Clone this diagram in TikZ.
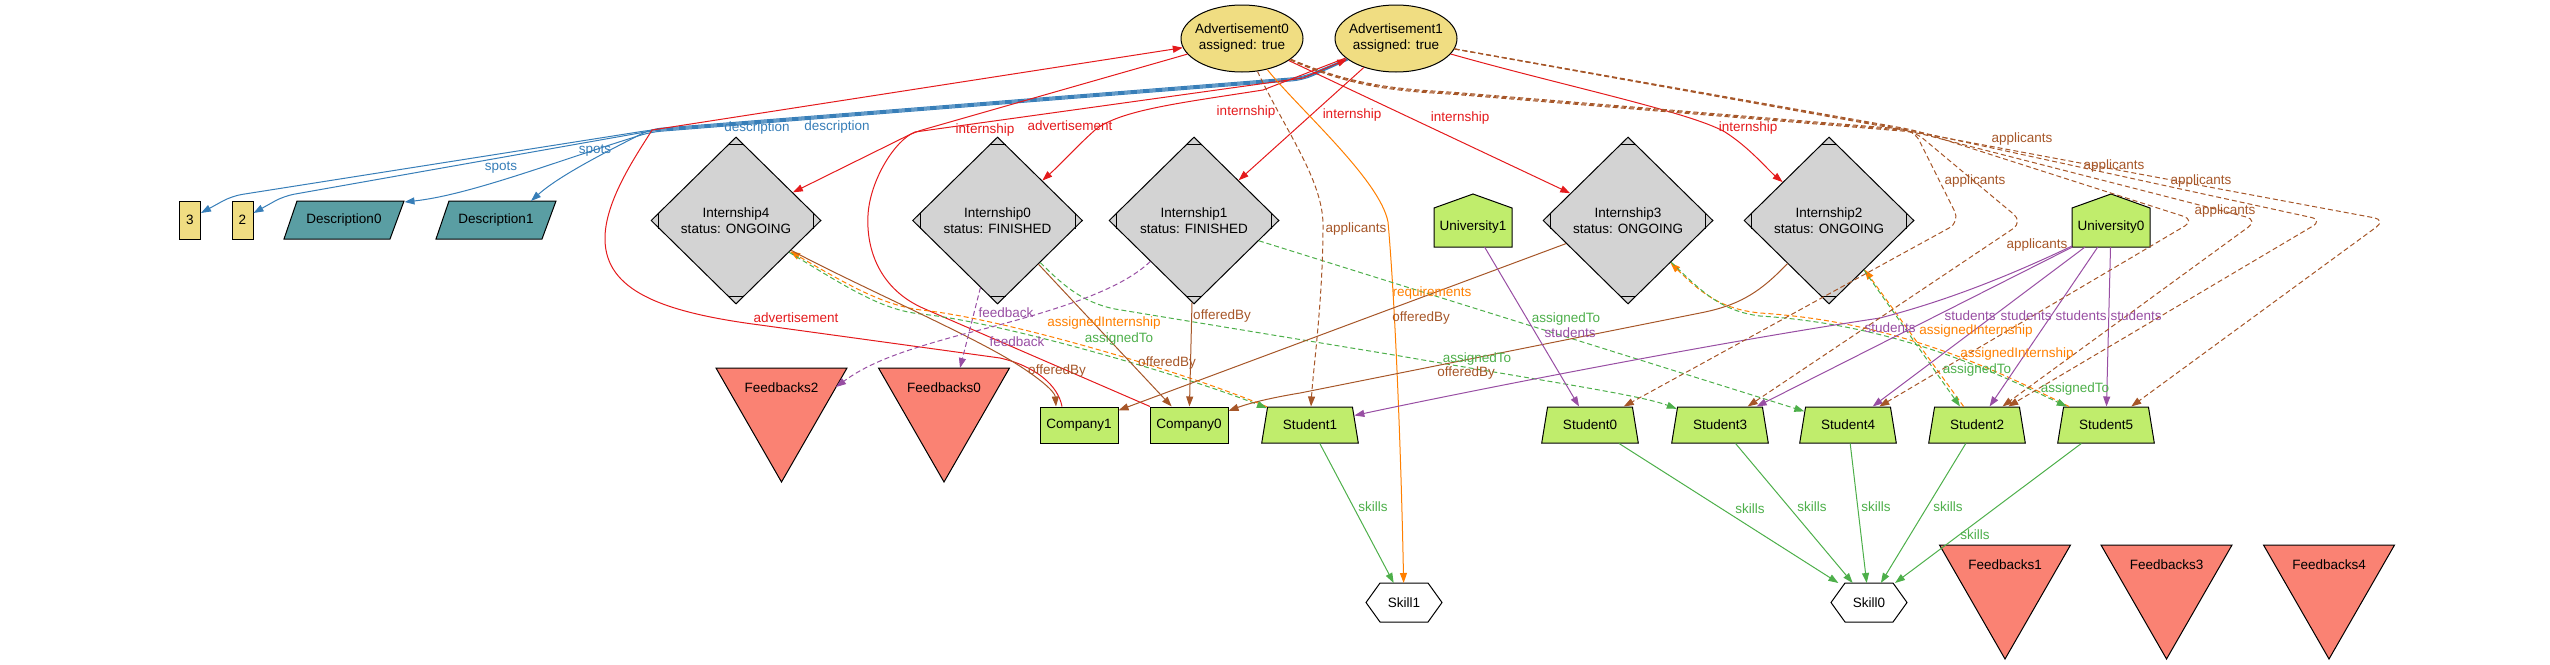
\documentclass[tikz,border=0pt]{standalone}
\usepackage{fontspec}
\setmainfont{Liberation Sans}
\usetikzlibrary{shapes.geometric,arrows.meta}
\definecolor{khakif}{RGB}{240,221,130}
\definecolor{tealf}{RGB}{90,158,163}
\definecolor{greyf}{RGB}{211,211,211}
\definecolor{greenf}{RGB}{192,237,108}
\definecolor{salmonf}{RGB}{250,130,115}
\definecolor{cred}{RGB}{228,26,28}
\definecolor{cblue}{RGB}{55,126,184}
\definecolor{cbrown}{RGB}{166,86,40}
\definecolor{corange}{RGB}{255,127,0}
\definecolor{cgreen}{RGB}{77,175,74}
\definecolor{cpurple}{RGB}{152,78,163}
\newcommand\fsz{\fontsize{13.5}{16}\selectfont}
\newcommand\mdlines[1]{%
 \draw[line width=1pt] ([shift={(-8,8)}]#1.north) -- ([shift={(8,8)}]#1.north);
 \draw[line width=1pt] ([shift={(-8,-8)}]#1.south) -- ([shift={(8,-8)}]#1.south);
 \draw[line width=1pt] ([shift={(8,-8)}]#1.west) -- ([shift={(8,8)}]#1.west);
 \draw[line width=1pt] ([shift={(-8,-8)}]#1.east) -- ([shift={(-8,8)}]#1.east);}
\newcommand\descnode[4]{%
 \filldraw[nline, fill=tealf] (#2-60,#3+19) -- (#2+46,#3+19) -- (#2+60,#3-19) -- (#2-47,#3-19) -- cycle;
 \node[plain, minimum width=107pt, minimum height=38pt] (#1) at (#2,#3) {#4};}
\newcommand\fbnode[4]{%
 \filldraw[nline, fill=salmonf] (#2-65.5,#3) -- (#2+65.5,#3) -- (#2,#3+114) -- cycle;
 \node[plain] (#1) at (#2,#3+20) {#4};}
\newcommand\housenode[4]{%
 \filldraw[nline, fill=greenf] (#2-39,#3+19.5) -- (#2+39,#3+19.5) -- (#2+39,#3-19.5) -- (#2,#3-33.5) -- (#2-39,#3-19.5) -- cycle;
 \node[plain, minimum width=78pt, minimum height=39pt] (#1) at (#2,#3) {#4};}
\newcommand\hexnode[4]{%
 \filldraw[nline, fill=white] (#2-38,#3) -- (#2-24,#3-19.5) -- (#2+24,#3-19.5) -- (#2+38,#3) -- (#2+24,#3+19.5) -- (#2-24,#3+19.5) -- cycle;
 \node[plain, minimum width=76pt, minimum height=39pt] (#1) at (#2,#3) {#4};}
\begin{document}
\begin{tikzpicture}[x=1pt,y=-1pt,
  every node/.style={font=\fsz},
  nline/.style={draw=black, line width=1pt},
  plain/.style={inner sep=0pt, outer sep=0pt, align=center},
  advn/.style={nline, ellipse, fill=khakif, minimum width=122pt, minimum height=67pt, inner sep=0pt},
  intn/.style={nline, rectangle, fill=khakif, minimum width=21pt, minimum height=38pt, inner sep=0pt},
  mdia/.style={nline, diamond, fill=greyf, minimum width=170pt, minimum height=167pt, inner sep=0pt, align=center},
  compn/.style={nline, rectangle, fill=greenf, minimum width=78pt, minimum height=36pt, inner sep=0pt},
  studn/.style={nline, trapezium, trapezium angle=69.4, trapezium stretches=true, fill=greenf, minimum width=97pt, minimum height=36pt, inner sep=0pt},
  edg/.style={line width=1pt, -{Triangle[length=10pt,width=7pt]}},
  ered/.style={edg, draw=cred},
  eblue/.style={edg, draw=cblue},
  ebrown/.style={edg, draw=cbrown},
  eorange/.style={edg, draw=corange},
  egreen/.style={edg, draw=cgreen},
  epurple/.style={edg, draw=cpurple},
  dsh/.style={dash pattern=on 5pt off 3pt},
  lbl/.style={inner sep=0pt, font=\fsz}]
\useasboundingbox (0,0) rectangle (2550,664);

% ---------------- nodes
\node[advn] (adv0) at (1242,38.5) {};
\node[plain] (adv0t) at (adv0.center) {Advertisement0\\assigned: true};
\node[advn] (adv1) at (1396,38.5) {};
\node[plain] (adv1t) at (adv1.center) {Advertisement1\\assigned: true};
\node[intn] (box3) at (190,220) {3};
\node[intn] (box2) at (242.5,220) {2};
\descnode{desc0}{344}{220}{Description0}
\descnode{desc1}{496}{220}{Description1}
\node[mdia] (i4) at (736,220.5) {Internship4\\status: ONGOING}; \mdlines{i4}
\node[mdia] (i0) at (997.5,220.5) {Internship0\\status: FINISHED}; \mdlines{i0}
\node[mdia] (i1) at (1194,220.5) {Internship1\\status: FINISHED}; \mdlines{i1}
\node[mdia] (i3) at (1628,220.5) {Internship3\\status: ONGOING}; \mdlines{i3}
\node[mdia] (i2) at (1829,220.5) {Internship2\\status: ONGOING}; \mdlines{i2}
\housenode{uni1}{1473}{227.5}{University1}
\housenode{uni0}{2111}{227.5}{University0}
\fbnode{fb2}{781.5}{368}{Feedbacks2}
\fbnode{fb0}{944}{368}{Feedbacks0}
\fbnode{fb1}{2005}{545}{Feedbacks1}
\fbnode{fb3}{2166.5}{545}{Feedbacks3}
\fbnode{fb4}{2329}{545}{Feedbacks4}
\node[compn] (company1) at (1079,425) {Company1};
\node[compn] (company0) at (1189,425) {Company0};
\node[studn] (student1) at (1310,425) {Student1};
\node[studn] (student0) at (1590,425) {Student0};
\node[studn] (student3) at (1720,425) {Student3};
\node[studn] (student4) at (1848,425) {Student4};
\node[studn] (student2) at (1977,425) {Student2};
\node[studn] (student5) at (2106,425) {Student5};
\hexnode{skill1}{1404}{602.5}{Skill1}
\hexnode{skill0}{1869}{602.5}{Skill0}
\coordinate (fb0in) at (960,368);
\coordinate (fb2in) at (836,387);

% ---------------- blue: description / spots
\draw[eblue, rounded corners=10pt] (adv1) -- (1303,78) -- (651,130) -- (232,196) -- ([shift={(0,-7)}]box3.east);
\draw[eblue, rounded corners=10pt] (adv1) -- (1303,79) -- (651,131) -- (284,196) -- ([shift={(0,-7)}]box2.east);
\draw[eblue, rounded corners=10pt] (adv1) -- (1303,80) -- (651,132) .. controls (560,160) and (470,195) .. ([shift={(7,1)}]desc0.north east);
\draw[eblue, rounded corners=10pt] (adv1) -- (1303,77) -- (651,129) .. controls (610,150) and (560,175) .. ([shift={(35,0)}]desc1.north);

% ---------------- red: internship / advertisement
\draw[ered] ([xshift=-17pt]company1.north) .. controls (1058,385) and (1035,366) .. (1000,358) -- (760,325) .. controls (660,312) and (606,290) .. (605,240) .. controls (604,200) and (640,150) .. (652,130) -- (adv0);
\draw[ered, rounded corners=8pt] (adv0) -- (915,132) -- (i4);
\draw[ered] ([xshift=-39pt]company0.north) -- (925,309) .. controls (880,290) and (866,250) .. (868,215) .. controls (870,180) and (895,140) .. (915,132) -- (1303,78) -- (adv1);
\draw[ered] (adv1) -- (1263,90) .. controls (1180,103) and (1120,110) .. (1095,130) .. controls (1075,148) and (1062,163) .. (i0);
\draw[ered] (adv1) -- (i1);
\draw[ered] (adv0) -- (i3);
\draw[ered] (adv1) .. controls (1560,85) and (1690,112) .. (1725,132) .. controls (1750,148) and (1768,170) .. (i2);

% ---------------- orange
\draw[eorange] (adv0) .. controls (1300,110) and (1380,180) .. (1388,222) .. controls (1395,300) and (1401,450) .. (skill1);
\draw[eorange, dsh] (student1) .. controls (1180,370) and (1000,318) .. (921,310) .. controls (880,305) and (840,280) .. (i4);
\draw[eorange, dsh] (student5) .. controls (2000,372) and (1900,322) .. (1760,313) .. controls (1720,309) and (1700,292) .. (i3);
\draw[eorange, dsh] (student2) -- (i2);

% ---------------- green dashed: assignedTo
\draw[egreen, dsh] (i4) .. controls (842,284) and (880,310) .. (921,314) .. controls (1000,322) and (1180,374) .. (student1);
\draw[egreen, dsh] (i0) .. controls (1060,282) and (1080,302) .. (1115,309) -- (1400,356) .. controls (1550,382) and (1640,395) .. (student3);
\draw[egreen, dsh] (i1) -- (student4);
\draw[egreen, dsh] (i2) -- ([xshift=-17pt]student2.north);
\draw[egreen, dsh] (i3) .. controls (1700,290) and (1720,311) .. (1760,316) .. controls (1900,325) and (2000,375) .. (student5);

% ---------------- brown: offeredBy
\draw[ebrown] (i1) -- (company0);
\draw[ebrown] (i0) -- (company0);
\draw[ebrown] (i4) .. controls (850,282) and (960,330) .. (1010,360) .. controls (1040,378) and (1055,392) .. ([xshift=-23pt]company1.north);
\draw[ebrown] (i3) -- (company1);
\draw[ebrown] (i2) .. controls (1762,290) and (1742,305) .. (1700,313) -- (1300,393) .. controls (1270,398) and (1250,403) .. (company0);

% ---------------- purple dashed: feedback
\draw[epurple, dsh] (i0) -- (fb0in);
\draw[epurple, dsh] (i1) .. controls (1120,290) and (1060,310) .. (960,335) .. controls (905,350) and (870,362) .. (fb2in);

% ---------------- purple: students
\draw[epurple] (uni1) -- (student0);
\draw[epurple] (uni0) .. controls (1990,285) and (1930,305) .. (1880,318) .. controls (1700,345) and (1450,395) .. (student1);
\draw[epurple] (uni0) -- (student3);
\draw[epurple] (uni0) -- (student4);
\draw[epurple] (uni0) -- (student2);
\draw[epurple] (uni0) -- (student5);

% ---------------- green: skills
\draw[egreen] (student1) -- (skill1);
\draw[egreen] (student0) -- (skill0);
\draw[egreen] (student3) -- (skill0);
\draw[egreen] (student4) -- (skill0);
\draw[egreen] (student2) -- (skill0);
\draw[egreen] (student5) -- (skill0);

% ---------------- brown dashed: applicants
\draw[ebrown, dsh] (adv0) .. controls (1285,130) and (1323,180) .. (1323,225) .. controls (1323,300) and (1313,370) .. (student1);
\draw[ebrown, dsh, rounded corners=12pt] (adv0) .. controls (1340,80) and (1380,88) .. (1450,92) -- (1914,130) -- (1960,222) -- (student0);
\draw[ebrown, dsh, rounded corners=12pt] (adv0) .. controls (1340,81) and (1380,89) .. (1450,93) -- (1914,131) -- (2023,222) -- (student3);
\draw[ebrown, dsh, rounded corners=12pt] (adv0) .. controls (1340,82) and (1380,90) .. (1450,94) -- (1914,132) -- (2258,220) -- (student2);
\draw[ebrown, dsh, rounded corners=12pt] (adv1) -- (1914,130) -- (2195,220) -- (student4);
\draw[ebrown, dsh, rounded corners=12pt] (adv1) -- (1914,131) -- (2323,220) -- (student2);
\draw[ebrown, dsh, rounded corners=12pt] (adv1) -- (1914,132) -- (2386,220) -- (student5);

% ---------------- labels
\node[lbl, text=cblue] (lb1) at (757,128) {description};
\node[lbl, text=cblue] (lb2) at (837,127) {description};
\node[lbl, text=cblue] (lb3) at (501,168) {spots};
\node[lbl, text=cblue] (lb4) at (595,151) {spots};
\node[lbl, text=cred] (lb5) at (985,130) {internship};
\node[lbl, text=cred] (lb6) at (1246,112) {internship};
\node[lbl, text=cred] (lb7) at (1352,115) {internship};
\node[lbl, text=cred] (lb8) at (1460,118) {internship};
\node[lbl, text=cred] (lb9) at (1748,128) {internship};
\node[lbl, text=cred] (lb10) at (1070,126) {advertisement};
\node[lbl, text=cred] (lb11) at (796,318) {advertisement};
\node[lbl, text=cbrown] (lb12) at (1356,229) {applicants};
\node[lbl, text=cbrown] (lb13) at (2022,139) {applicants};
\node[lbl, text=cbrown] (lb14) at (1975,181) {applicants};
\node[lbl, text=cbrown] (lb15) at (2114,166) {applicants};
\node[lbl, text=cbrown] (lb16) at (2201,181) {applicants};
\node[lbl, text=cbrown] (lb17) at (2225,211) {applicants};
\node[lbl, text=cbrown] (lb18) at (2037,245) {applicants};
\node[lbl, text=cbrown] (lb19) at (1222,316) {offeredBy};
\node[lbl, text=cbrown] (lb20) at (1167,363) {offeredBy};
\node[lbl, text=cbrown] (lb21) at (1057,371) {offeredBy};
\node[lbl, text=cbrown] (lb22) at (1421,318) {offeredBy};
\node[lbl, text=cbrown] (lb23) at (1466,373) {offeredBy};
\node[lbl, text=corange] (lb24) at (1432,293) {requirements};
\node[lbl, text=corange] (lb25) at (1104,323) {assignedInternship};
\node[lbl, text=corange] (lb26) at (1976,331) {assignedInternship};
\node[lbl, text=corange] (lb27) at (2017,354) {assignedInternship};
\node[lbl, text=cgreen] (lb28) at (1119,339) {assignedTo};
\node[lbl, text=cgreen] (lb29) at (1566,319) {assignedTo};
\node[lbl, text=cgreen] (lb30) at (1477,359) {assignedTo};
\node[lbl, text=cgreen] (lb31) at (1977,370) {assignedTo};
\node[lbl, text=cgreen] (lb32) at (2075,389) {assignedTo};
\node[lbl, text=cgreen] (lb33) at (1373,507) {skills};
\node[lbl, text=cgreen] (lb34) at (1750,509) {skills};
\node[lbl, text=cgreen] (lb35) at (1812,507) {skills};
\node[lbl, text=cgreen] (lb36) at (1876,507) {skills};
\node[lbl, text=cgreen] (lb37) at (1948,507) {skills};
\node[lbl, text=cgreen] (lb38) at (1975,535) {skills};
\node[lbl, text=cpurple] (lb39) at (1006,313) {feedback};
\node[lbl, text=cpurple] (lb40) at (1017,342) {feedback};
\node[lbl, text=cpurple] (lb41) at (1570,333) {students};
\node[lbl, text=cpurple] (lb42) at (1890,328) {students};
\node[lbl, text=cpurple] (lb43) at (1970,316) {students};
\node[lbl, text=cpurple] (lb44) at (2026,316) {students};
\node[lbl, text=cpurple] (lb45) at (2081,316) {students};
\node[lbl, text=cpurple] (lb46) at (2136,316) {students};
\end{tikzpicture}
\end{document}
